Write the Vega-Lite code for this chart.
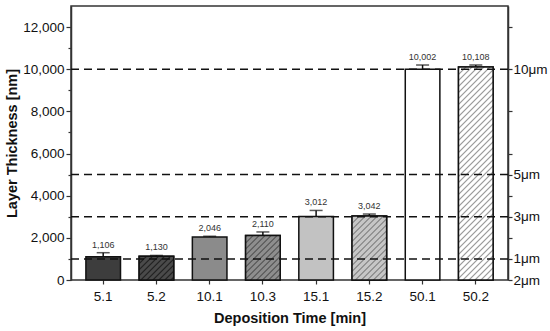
{
  "$schema": "https://vega.github.io/schema/vega-lite/v6.json",
  "width": 437,
  "height": 274,
  "autosize": {"type": "none"},
  "padding": {"left": 71, "top": 6, "right": 42, "bottom": 51},
  "background": "white",
  "datasets": {
    "bars": [
      {"time": "5.1", "value": 1106, "upper": 1295},
      {"time": "5.2", "value": 1130, "upper": 1165},
      {"time": "10.1", "value": 2046, "upper": 2075},
      {"time": "10.3", "value": 2110, "upper": 2280},
      {"time": "15.1", "value": 3012, "upper": 3300},
      {"time": "15.2", "value": 3042, "upper": 3130},
      {"time": "50.1", "value": 10002, "upper": 10200},
      {"time": "50.2", "value": 10108, "upper": 10200}
    ],
    "limits": [{"t": 1000}, {"t": 3000}, {"t": 5000}, {"t": 10000}]
  },
  "resolve": {"axis": {"y": "independent"}},
  "layer": [
    {
      "data": {"name": "bars"},
      "mark": {"type": "bar", "stroke": "#111", "strokeWidth": 1.5},
      "encoding": {
        "x": {"field": "time", "type": "nominal", "sort": null,
              "scale": {"paddingInner": 0.35, "paddingOuter": 0.28},
              "axis": {"title": "Deposition Time [min]", "labelAngle": 0, "labelFontSize": 13.5, "labelColor": "#111",
                       "tickSize": 4, "labelPadding": 5, "titleFontSize": 14.5, "titleFontWeight": "bold", "titleColor": "#111",
                       "titlePadding": 9, "domain": false}},
        "y": {"field": "value", "type": "quantitative",
              "scale": {"domain": [0, 13000], "nice": false},
              "axis": {"orient": "left", "values": [0, 2000, 4000, 6000, 8000, 10000, 12000], "format": ",.0f",
                       "labelFontSize": 13.5, "labelColor": "#111", "tickSize": 5, "labelPadding": 2,
                       "title": "Layer Thickness [nm]", "titleFontSize": 14.5, "titleFontWeight": "bold", "titleColor": "#111",
                       "titlePadding": 3, "labelFlush": false, "labelOverlap": false}},
        "fill": {"field": "time", "type": "nominal", "legend": null,
                 "scale": {"domain": ["5.1", "5.2", "10.1", "10.3", "15.1", "15.2", "50.1", "50.2"],
                           "range": ["#3d3d3d", "#4a4a4a", "#8b8b8b", "#8e8e8e", "#c2c2c2", "#c6c6c6", "#ffffff", "#ffffff"]}}
      }
    },
    {
      "data": {"name": "bars"},
      "transform": [{"filter": "datum.time === '5.2'"}],
      "mark": {"type": "bar", "stroke": "#111", "strokeWidth": 1.5,
               "fill": {"gradient": "linear", "x1": 0, "y1": 0, "x2": 4.902, "y2": 3.375, "stops": [
                 {"offset": 0, "color": "#4a4a4a"}, {"offset": 0.006, "color": "#1e1e1e"}, {"offset": 0.012, "color": "#4a4a4a"},
                 {"offset": 0.024, "color": "#4a4a4a"}, {"offset": 0.030, "color": "#1e1e1e"}, {"offset": 0.036, "color": "#4a4a4a"},
                 {"offset": 0.048, "color": "#4a4a4a"}, {"offset": 0.054, "color": "#1e1e1e"}, {"offset": 0.060, "color": "#4a4a4a"},
                 {"offset": 0.072, "color": "#4a4a4a"}, {"offset": 0.078, "color": "#1e1e1e"}, {"offset": 0.084, "color": "#4a4a4a"},
                 {"offset": 0.096, "color": "#4a4a4a"}, {"offset": 0.102, "color": "#1e1e1e"}, {"offset": 0.108, "color": "#4a4a4a"},
                 {"offset": 0.120, "color": "#4a4a4a"}, {"offset": 0.126, "color": "#1e1e1e"}, {"offset": 0.132, "color": "#4a4a4a"},
                 {"offset": 0.144, "color": "#4a4a4a"}, {"offset": 0.150, "color": "#1e1e1e"}, {"offset": 0.156, "color": "#4a4a4a"},
                 {"offset": 0.168, "color": "#4a4a4a"}, {"offset": 0.174, "color": "#1e1e1e"}, {"offset": 0.180, "color": "#4a4a4a"},
                 {"offset": 0.192, "color": "#4a4a4a"}, {"offset": 0.198, "color": "#1e1e1e"}, {"offset": 0.204, "color": "#4a4a4a"},
                 {"offset": 0.216, "color": "#4a4a4a"}, {"offset": 0.222, "color": "#1e1e1e"}, {"offset": 0.228, "color": "#4a4a4a"},
                 {"offset": 1, "color": "#4a4a4a"}
               ]}},
      "encoding": {
        "x": {"field": "time", "type": "nominal", "sort": null},
        "y": {"field": "value", "type": "quantitative", "scale": {"domain": [0, 13000], "nice": false}, "axis": null}
      }
    },
    {
      "data": {"name": "bars"},
      "transform": [{"filter": "datum.time === '10.3'"}],
      "mark": {"type": "bar", "stroke": "#111", "strokeWidth": 1.5,
               "fill": {"gradient": "linear", "x1": 0, "y1": 0, "x2": 2.7246, "y2": 3.5018, "stops": [
                 {"offset": 0, "color": "#8e8e8e"}, {"offset": 0.006, "color": "#4e4e4e"}, {"offset": 0.012, "color": "#8e8e8e"},
                 {"offset": 0.024, "color": "#8e8e8e"}, {"offset": 0.030, "color": "#4e4e4e"}, {"offset": 0.036, "color": "#8e8e8e"},
                 {"offset": 0.048, "color": "#8e8e8e"}, {"offset": 0.054, "color": "#4e4e4e"}, {"offset": 0.060, "color": "#8e8e8e"},
                 {"offset": 0.072, "color": "#8e8e8e"}, {"offset": 0.078, "color": "#4e4e4e"}, {"offset": 0.084, "color": "#8e8e8e"},
                 {"offset": 0.096, "color": "#8e8e8e"}, {"offset": 0.102, "color": "#4e4e4e"}, {"offset": 0.108, "color": "#8e8e8e"},
                 {"offset": 0.120, "color": "#8e8e8e"}, {"offset": 0.126, "color": "#4e4e4e"}, {"offset": 0.132, "color": "#8e8e8e"},
                 {"offset": 0.144, "color": "#8e8e8e"}, {"offset": 0.150, "color": "#4e4e4e"}, {"offset": 0.156, "color": "#8e8e8e"},
                 {"offset": 0.168, "color": "#8e8e8e"}, {"offset": 0.174, "color": "#4e4e4e"}, {"offset": 0.180, "color": "#8e8e8e"},
                 {"offset": 0.192, "color": "#8e8e8e"}, {"offset": 0.198, "color": "#4e4e4e"}, {"offset": 0.204, "color": "#8e8e8e"},
                 {"offset": 0.216, "color": "#8e8e8e"}, {"offset": 0.222, "color": "#4e4e4e"}, {"offset": 0.228, "color": "#8e8e8e"},
                 {"offset": 0.240, "color": "#8e8e8e"}, {"offset": 0.246, "color": "#4e4e4e"}, {"offset": 0.252, "color": "#8e8e8e"},
                 {"offset": 0.264, "color": "#8e8e8e"}, {"offset": 0.270, "color": "#4e4e4e"}, {"offset": 0.276, "color": "#8e8e8e"},
                 {"offset": 0.288, "color": "#8e8e8e"}, {"offset": 0.294, "color": "#4e4e4e"}, {"offset": 0.300, "color": "#8e8e8e"},
                 {"offset": 0.312, "color": "#8e8e8e"}, {"offset": 0.318, "color": "#4e4e4e"}, {"offset": 0.324, "color": "#8e8e8e"},
                 {"offset": 1, "color": "#8e8e8e"}
               ]}},
      "encoding": {
        "x": {"field": "time", "type": "nominal", "sort": null},
        "y": {"field": "value", "type": "quantitative", "scale": {"domain": [0, 13000], "nice": false}, "axis": null}
      }
    },
    {
      "data": {"name": "bars"},
      "transform": [{"filter": "datum.time === '15.2'"}],
      "mark": {"type": "bar", "stroke": "#111", "strokeWidth": 1.5,
               "fill": {"gradient": "linear", "x1": 0, "y1": 0, "x2": 1.6294, "y2": 3.0196, "stops": [
                 {"offset": 0, "color": "#c6c6c6"}, {"offset": 0.006, "color": "#7a7a7a"}, {"offset": 0.012, "color": "#c6c6c6"},
                 {"offset": 0.024, "color": "#c6c6c6"}, {"offset": 0.030, "color": "#7a7a7a"}, {"offset": 0.036, "color": "#c6c6c6"},
                 {"offset": 0.048, "color": "#c6c6c6"}, {"offset": 0.054, "color": "#7a7a7a"}, {"offset": 0.060, "color": "#c6c6c6"},
                 {"offset": 0.072, "color": "#c6c6c6"}, {"offset": 0.078, "color": "#7a7a7a"}, {"offset": 0.084, "color": "#c6c6c6"},
                 {"offset": 0.096, "color": "#c6c6c6"}, {"offset": 0.102, "color": "#7a7a7a"}, {"offset": 0.108, "color": "#c6c6c6"},
                 {"offset": 0.120, "color": "#c6c6c6"}, {"offset": 0.126, "color": "#7a7a7a"}, {"offset": 0.132, "color": "#c6c6c6"},
                 {"offset": 0.144, "color": "#c6c6c6"}, {"offset": 0.150, "color": "#7a7a7a"}, {"offset": 0.156, "color": "#c6c6c6"},
                 {"offset": 0.168, "color": "#c6c6c6"}, {"offset": 0.174, "color": "#7a7a7a"}, {"offset": 0.180, "color": "#c6c6c6"},
                 {"offset": 0.192, "color": "#c6c6c6"}, {"offset": 0.198, "color": "#7a7a7a"}, {"offset": 0.204, "color": "#c6c6c6"},
                 {"offset": 0.216, "color": "#c6c6c6"}, {"offset": 0.222, "color": "#7a7a7a"}, {"offset": 0.228, "color": "#c6c6c6"},
                 {"offset": 0.240, "color": "#c6c6c6"}, {"offset": 0.246, "color": "#7a7a7a"}, {"offset": 0.252, "color": "#c6c6c6"},
                 {"offset": 0.264, "color": "#c6c6c6"}, {"offset": 0.270, "color": "#7a7a7a"}, {"offset": 0.276, "color": "#c6c6c6"},
                 {"offset": 0.288, "color": "#c6c6c6"}, {"offset": 0.294, "color": "#7a7a7a"}, {"offset": 0.300, "color": "#c6c6c6"},
                 {"offset": 0.312, "color": "#c6c6c6"}, {"offset": 0.318, "color": "#7a7a7a"}, {"offset": 0.324, "color": "#c6c6c6"},
                 {"offset": 0.336, "color": "#c6c6c6"}, {"offset": 0.342, "color": "#7a7a7a"}, {"offset": 0.348, "color": "#c6c6c6"},
                 {"offset": 0.360, "color": "#c6c6c6"}, {"offset": 0.366, "color": "#7a7a7a"}, {"offset": 0.372, "color": "#c6c6c6"},
                 {"offset": 0.384, "color": "#c6c6c6"}, {"offset": 0.390, "color": "#7a7a7a"}, {"offset": 0.396, "color": "#c6c6c6"},
                 {"offset": 1, "color": "#c6c6c6"}
               ]}},
      "encoding": {
        "x": {"field": "time", "type": "nominal", "sort": null},
        "y": {"field": "value", "type": "quantitative", "scale": {"domain": [0, 13000], "nice": false}, "axis": null}
      }
    },
    {
      "data": {"name": "bars"},
      "transform": [{"filter": "datum.time === '50.2'"}],
      "mark": {"type": "bar", "stroke": "#111", "strokeWidth": 1.5,
               "fill": {"gradient": "linear", "x1": 0, "y1": 0, "x2": 0.18567, "y2": 1.14328, "stops": [
                 {"offset": 0, "color": "#ffffff"}, {"offset": 0.006, "color": "#9a9a9a"}, {"offset": 0.012, "color": "#ffffff"},
                 {"offset": 0.024, "color": "#ffffff"}, {"offset": 0.030, "color": "#9a9a9a"}, {"offset": 0.036, "color": "#ffffff"},
                 {"offset": 0.048, "color": "#ffffff"}, {"offset": 0.054, "color": "#9a9a9a"}, {"offset": 0.060, "color": "#ffffff"},
                 {"offset": 0.072, "color": "#ffffff"}, {"offset": 0.078, "color": "#9a9a9a"}, {"offset": 0.084, "color": "#ffffff"},
                 {"offset": 0.096, "color": "#ffffff"}, {"offset": 0.102, "color": "#9a9a9a"}, {"offset": 0.108, "color": "#ffffff"},
                 {"offset": 0.120, "color": "#ffffff"}, {"offset": 0.126, "color": "#9a9a9a"}, {"offset": 0.132, "color": "#ffffff"},
                 {"offset": 0.144, "color": "#ffffff"}, {"offset": 0.150, "color": "#9a9a9a"}, {"offset": 0.156, "color": "#ffffff"},
                 {"offset": 0.168, "color": "#ffffff"}, {"offset": 0.174, "color": "#9a9a9a"}, {"offset": 0.180, "color": "#ffffff"},
                 {"offset": 0.192, "color": "#ffffff"}, {"offset": 0.198, "color": "#9a9a9a"}, {"offset": 0.204, "color": "#ffffff"},
                 {"offset": 0.216, "color": "#ffffff"}, {"offset": 0.222, "color": "#9a9a9a"}, {"offset": 0.228, "color": "#ffffff"},
                 {"offset": 0.240, "color": "#ffffff"}, {"offset": 0.246, "color": "#9a9a9a"}, {"offset": 0.252, "color": "#ffffff"},
                 {"offset": 0.264, "color": "#ffffff"}, {"offset": 0.270, "color": "#9a9a9a"}, {"offset": 0.276, "color": "#ffffff"},
                 {"offset": 0.288, "color": "#ffffff"}, {"offset": 0.294, "color": "#9a9a9a"}, {"offset": 0.300, "color": "#ffffff"},
                 {"offset": 0.312, "color": "#ffffff"}, {"offset": 0.318, "color": "#9a9a9a"}, {"offset": 0.324, "color": "#ffffff"},
                 {"offset": 0.336, "color": "#ffffff"}, {"offset": 0.342, "color": "#9a9a9a"}, {"offset": 0.348, "color": "#ffffff"},
                 {"offset": 0.360, "color": "#ffffff"}, {"offset": 0.366, "color": "#9a9a9a"}, {"offset": 0.372, "color": "#ffffff"},
                 {"offset": 0.384, "color": "#ffffff"}, {"offset": 0.390, "color": "#9a9a9a"}, {"offset": 0.396, "color": "#ffffff"},
                 {"offset": 0.408, "color": "#ffffff"}, {"offset": 0.414, "color": "#9a9a9a"}, {"offset": 0.420, "color": "#ffffff"},
                 {"offset": 0.432, "color": "#ffffff"}, {"offset": 0.438, "color": "#9a9a9a"}, {"offset": 0.444, "color": "#ffffff"},
                 {"offset": 0.456, "color": "#ffffff"}, {"offset": 0.462, "color": "#9a9a9a"}, {"offset": 0.468, "color": "#ffffff"},
                 {"offset": 0.480, "color": "#ffffff"}, {"offset": 0.486, "color": "#9a9a9a"}, {"offset": 0.492, "color": "#ffffff"},
                 {"offset": 0.504, "color": "#ffffff"}, {"offset": 0.510, "color": "#9a9a9a"}, {"offset": 0.516, "color": "#ffffff"},
                 {"offset": 0.528, "color": "#ffffff"}, {"offset": 0.534, "color": "#9a9a9a"}, {"offset": 0.540, "color": "#ffffff"},
                 {"offset": 0.552, "color": "#ffffff"}, {"offset": 0.558, "color": "#9a9a9a"}, {"offset": 0.564, "color": "#ffffff"},
                 {"offset": 0.576, "color": "#ffffff"}, {"offset": 0.582, "color": "#9a9a9a"}, {"offset": 0.588, "color": "#ffffff"},
                 {"offset": 0.600, "color": "#ffffff"}, {"offset": 0.606, "color": "#9a9a9a"}, {"offset": 0.612, "color": "#ffffff"},
                 {"offset": 0.624, "color": "#ffffff"}, {"offset": 0.630, "color": "#9a9a9a"}, {"offset": 0.636, "color": "#ffffff"},
                 {"offset": 0.648, "color": "#ffffff"}, {"offset": 0.654, "color": "#9a9a9a"}, {"offset": 0.660, "color": "#ffffff"},
                 {"offset": 0.672, "color": "#ffffff"}, {"offset": 0.678, "color": "#9a9a9a"}, {"offset": 0.684, "color": "#ffffff"},
                 {"offset": 0.696, "color": "#ffffff"}, {"offset": 0.702, "color": "#9a9a9a"}, {"offset": 0.708, "color": "#ffffff"},
                 {"offset": 0.720, "color": "#ffffff"}, {"offset": 0.726, "color": "#9a9a9a"}, {"offset": 0.732, "color": "#ffffff"},
                 {"offset": 0.744, "color": "#ffffff"}, {"offset": 0.750, "color": "#9a9a9a"}, {"offset": 0.756, "color": "#ffffff"},
                 {"offset": 0.768, "color": "#ffffff"}, {"offset": 0.774, "color": "#9a9a9a"}, {"offset": 0.780, "color": "#ffffff"},
                 {"offset": 0.792, "color": "#ffffff"}, {"offset": 0.798, "color": "#9a9a9a"}, {"offset": 0.804, "color": "#ffffff"},
                 {"offset": 0.816, "color": "#ffffff"}, {"offset": 0.822, "color": "#9a9a9a"}, {"offset": 0.828, "color": "#ffffff"},
                 {"offset": 0.840, "color": "#ffffff"}, {"offset": 0.846, "color": "#9a9a9a"}, {"offset": 0.852, "color": "#ffffff"},
                 {"offset": 0.864, "color": "#ffffff"}, {"offset": 0.870, "color": "#9a9a9a"}, {"offset": 0.876, "color": "#ffffff"},
                 {"offset": 0.888, "color": "#ffffff"}, {"offset": 0.894, "color": "#9a9a9a"}, {"offset": 0.900, "color": "#ffffff"},
                 {"offset": 0.912, "color": "#ffffff"}, {"offset": 0.918, "color": "#9a9a9a"}, {"offset": 0.924, "color": "#ffffff"},
                 {"offset": 0.936, "color": "#ffffff"}, {"offset": 0.942, "color": "#9a9a9a"}, {"offset": 0.948, "color": "#ffffff"},
                 {"offset": 0.960, "color": "#ffffff"}, {"offset": 0.966, "color": "#9a9a9a"}, {"offset": 0.972, "color": "#ffffff"},
                 {"offset": 0.984, "color": "#ffffff"}, {"offset": 0.990, "color": "#9a9a9a"}, {"offset": 0.996, "color": "#ffffff"},
                 {"offset": 1, "color": "#ffffff"}
               ]}},
      "encoding": {
        "x": {"field": "time", "type": "nominal", "sort": null},
        "y": {"field": "value", "type": "quantitative", "scale": {"domain": [0, 13000], "nice": false}, "axis": null}
      }
    },
    {
      "data": {"name": "bars"},
      "mark": {"type": "rule", "color": "#111", "strokeWidth": 1.5},
      "encoding": {
        "x": {"field": "time", "type": "nominal", "sort": null},
        "y": {"field": "value", "type": "quantitative", "scale": {"domain": [0, 13000], "nice": false},
              "axis": {"orient": "left", "values": [1000, 3000, 5000, 7000, 9000, 11000], "labels": false, "domain": false,
                       "tickSize": 3, "title": null, "grid": false}},
        "y2": {"field": "upper"}
      }
    },
    {
      "data": {"name": "bars"},
      "mark": {"type": "tick", "color": "#111", "size": 13, "thickness": 1.5},
      "encoding": {
        "x": {"field": "time", "type": "nominal", "sort": null},
        "y": {"field": "upper", "type": "quantitative", "scale": {"domain": [0, 13000], "nice": false}, "axis": null}
      }
    },
    {
      "data": {"name": "limits"},
      "mark": {"type": "rule", "color": "#111", "strokeWidth": 1.5, "strokeDash": [8, 5]},
      "encoding": {
        "y": {"field": "t", "type": "quantitative", "scale": {"domain": [0, 13000], "nice": false},
              "axis": {"orient": "right", "values": [0, 1000, 2000, 3000, 4000, 5000, 6000, 8000, 10000, 12000],
                       "labelExpr": "datum.value == 0 ? '2μm' : datum.value == 1000 ? '1μm' : datum.value == 3000 ? '3μm' : datum.value == 5000 ? '5μm' : datum.value == 10000 ? '10μm' : ''",
                       "labelFontSize": 13.5, "labelColor": "#111", "tickSize": 4, "labelPadding": 1, "title": null,
                       "labelFlush": false, "labelOverlap": false, "grid": false}}
      }
    },
    {
      "data": {"name": "bars"},
      "mark": {"type": "text", "fontSize": 9, "color": "#333", "baseline": "bottom", "dy": -3},
      "encoding": {
        "x": {"field": "time", "type": "nominal", "sort": null},
        "y": {"field": "upper", "type": "quantitative", "scale": {"domain": [0, 13000], "nice": false}, "axis": null},
        "text": {"field": "value", "type": "quantitative", "format": ","}
      }
    }
  ],
  "config": {
    "font": "Liberation Sans",
    "view": {"stroke": "#333", "strokeWidth": 1.5},
    "axis": {"domainColor": "#333", "domainWidth": 1.5, "tickColor": "#333", "tickWidth": 1.2, "grid": false, "labelFlush": false}
  }
}
